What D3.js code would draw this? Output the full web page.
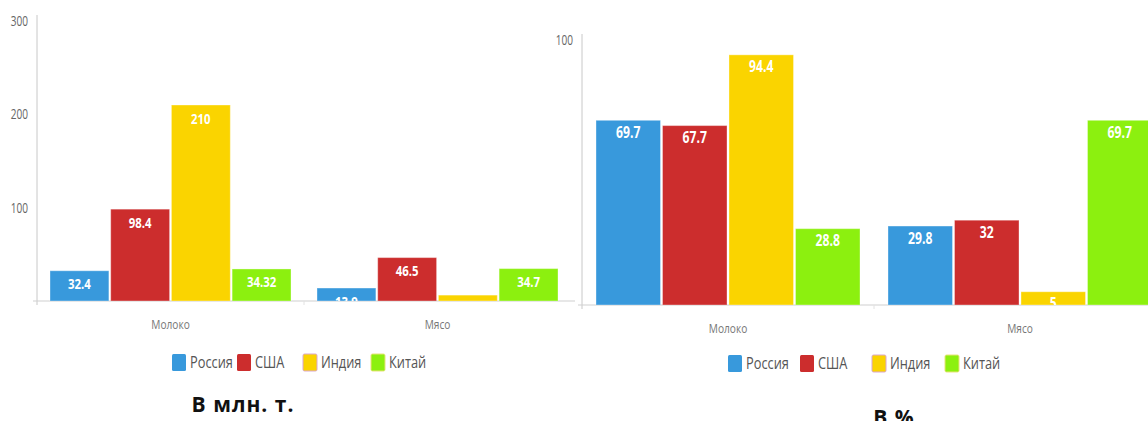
<!DOCTYPE html>
<html lang="ru">
<head>
<meta charset="utf-8">
<title>Молоко и мясо</title>
<script src="https://d3js.org/d3.v7.min.js"></script>
<style>
  body { margin: 0; background: #fff; }
  svg { display: block; }
</style>
</head>
<body>
<script>
"use strict";

// data
const categories = ["Молоко", "Мясо"];
const countries = ["Россия", "США", "Индия", "Китай"];
const colors = ["#3899dc", "#cc2d2d", "#fad400", "#8cf00f"];

// млн. т. (one array per country: Молоко, Мясо)
const tonsRussia = [32.4, 13.9];
const tonsUSA = [98.4, 46.5];
const tonsIndia = [210, 6.3];
const tonsChina = [34.32, 34.7];
const tonsTicks = [100, 200, 300];

// %
const pctRussia = [69.7, 29.8];
const pctUSA = [67.7, 32];
const pctIndia = [94.4, 5];
const pctChina = [28.8, 69.7];
const pctTicks = [100];

const w = 1148, h = 421;
const svg = d3.select("body").append("svg")
    .attr("width", w)
    .attr("height", h);

const font = "'Open Sans', sans-serif";

// squeeze text horizontally, the source font is a condensed one
function condense(sel, k) {
    sel.each(function() {
        const len = this.getComputedTextLength();
        d3.select(this)
            .attr("textLength", len * k)
            .attr("lengthAdjust", "spacingAndGlyphs");
    });
}

function drawChart(opt) {
    const series = opt.series;
    const rows = [];
    categories.forEach(function(c, ci) {
        countries.forEach(function(k, ki) {
            rows.push({cat: c, country: k, ki: ki, value: series[ki][ci]});
        });
    });

    const x0 = d3.scaleBand().domain(categories).range([opt.left, opt.right]);
    const x1 = d3.scaleBand().domain(countries)
        .range([opt.pad, x0.bandwidth() - opt.pad])
        .paddingInner(0.03);
    const y = d3.scaleLinear().domain([0, opt.max]).range([opt.base, opt.top]);

    const g = svg.append("g");

    const clipId = "clip" + opt.id;
    svg.append("clipPath").attr("id", clipId)
        .append("rect")
        .attr("x", opt.left).attr("y", 0)
        .attr("width", opt.right - opt.left).attr("height", opt.base);

    // y axis line
    g.append("line")
        .attr("x1", opt.left).attr("x2", opt.left)
        .attr("y1", opt.axisTop).attr("y2", opt.base + 4)
        .attr("stroke", "#c8c8c8").attr("stroke-width", 1);
    // x axis line
    g.append("line")
        .attr("x1", opt.left - 4).attr("x2", opt.right + 4)
        .attr("y1", opt.base).attr("y2", opt.base)
        .attr("stroke", "#d0d0d0").attr("stroke-width", 1.2);

    // category separator tick
    g.append("line")
        .attr("x1", opt.left + x0.bandwidth()).attr("x2", opt.left + x0.bandwidth())
        .attr("y1", opt.base).attr("y2", opt.base + 4)
        .attr("stroke", "#e2e2e2");

    // tick labels
    g.selectAll(".tick")
        .data(opt.ticks)
        .enter().append("text")
        .attr("x", opt.left - 9)
        .attr("y", function(d) { return y(d); })
        .attr("dy", "0.35em")
        .attr("text-anchor", "end")
        .style("font", "14px " + font)
        .style("fill", "#666")
        .text(function(d) { return d; })
        .call(condense, 0.72);

    // bars
    const bars = g.append("g").attr("clip-path", "url(#" + clipId + ")");
    bars.selectAll("rect")
        .data(rows)
        .enter().append("rect")
        .attr("x", function(d) { return x0(d.cat) + x1(d.country); })
        .attr("y", function(d) { return y(d.value); })
        .attr("width", x1.bandwidth())
        .attr("height", function(d) { return opt.base - y(d.value); })
        .attr("fill", function(d) { return colors[d.ki]; })
        .attr("stroke", "rgba(255,255,255,0.35)")
        .attr("stroke-width", 1);

    bars.selectAll(".val")
        .data(rows)
        .enter().append("text")
        .attr("x", function(d) { return x0(d.cat) + x1(d.country) + x1.bandwidth() / 2; })
        .attr("y", function(d) { return y(d.value) + opt.labelDy; })
        .attr("text-anchor", "middle")
        .style("font", "bold " + opt.labelSize + "px " + font)
        .style("fill", "#fff")
        .text(function(d) { return d.value; })
        .call(condense, 0.76);

    // category labels
    g.selectAll(".cat")
        .data(categories)
        .enter().append("text")
        .attr("x", function(d) { return x0(d) + x0.bandwidth() / 2; })
        .attr("y", opt.base + 28)
        .attr("text-anchor", "middle")
        .style("font", "13px " + font)
        .style("fill", "#777")
        .text(function(d) { return d; })
        .call(condense, 0.78);

    // legend
    const leg = g.append("g").attr("transform", "translate(0," + opt.legendY + ")");
    const items = leg.selectAll("g")
        .data(countries)
        .enter().append("g")
        .attr("transform", function(d, i) { return "translate(" + opt.legendX[i] + ",0)"; });
    items.append("rect")
        .attr("x", 0).attr("y", -8)
        .attr("width", 14).attr("height", 17)
        .attr("rx", 1.5)
        .attr("fill", function(d, i) { return colors[i]; })
        .attr("stroke", function(d, i) { return i === 2 ? "#d9a6d0" : (i === 3 ? "#e9e27a" : "none"); })
        .attr("stroke-width", 1);
    items.append("text")
        .attr("x", 18).attr("y", 0)
        .attr("dy", "0.35em")
        .style("font", "16px " + font)
        .style("fill", "#555")
        .text(function(d) { return d; })
        .call(condense, 0.8);

    // title
    svg.append("text")
        .attr("x", opt.titleX).attr("y", opt.titleY)
        .attr("text-anchor", "middle")
        .style("font", "bold 21px " + font)
        .style("letter-spacing", "1px")
        .style("fill", "#111")
        .text(opt.title);
}

drawChart({
    id: "a",
    series: [tonsRussia, tonsUSA, tonsIndia, tonsChina],
    ticks: tonsTicks,
    max: 300,
    left: 37, right: 571, pad: 13,
    base: 301, top: 21, axisTop: 15,
    labelDy: 18.5, labelSize: 15,
    legendY: 362, legendX: [172, 237, 303, 371],
    title: "В млн. т.", titleX: 243, titleY: 412
});

drawChart({
    id: "b",
    series: [pctRussia, pctUSA, pctIndia, pctChina],
    ticks: pctTicks,
    max: 100,
    left: 582, right: 1166, pad: 14,
    base: 305, top: 40, axisTop: 34,
    labelDy: 17.5, labelSize: 16,
    legendY: 363, legendX: [728, 800, 872, 945],
    title: "В %", titleX: 894, titleY: 425
});
</script>
</body>
</html>
